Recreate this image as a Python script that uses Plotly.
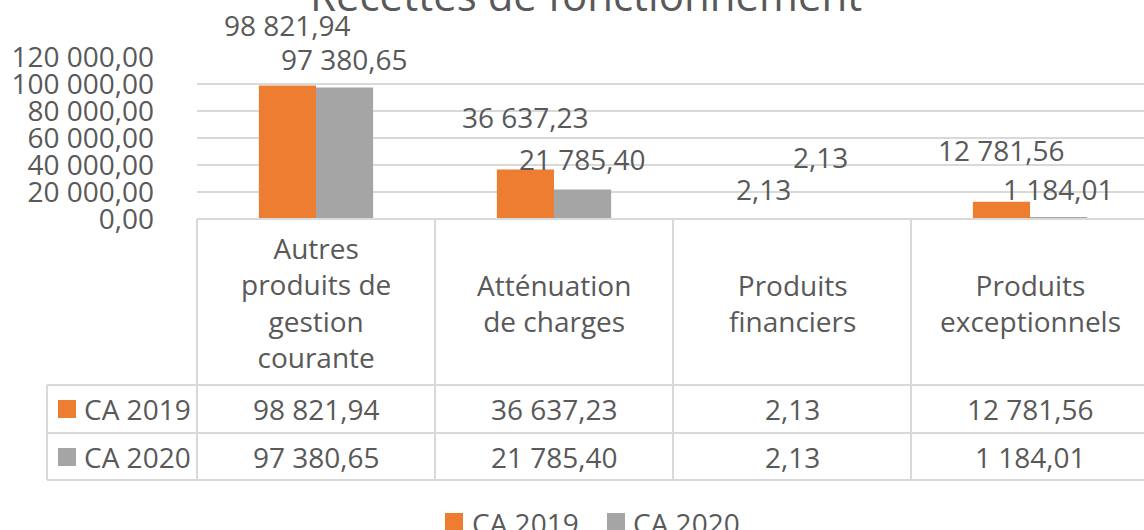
import plotly.graph_objects as go

# ---------------- data ----------------
categories = [
    "Autres produits de gestion courante",
    "Atténuation de charges",
    "Produits financiers",
    "Produits exceptionnels",
]
category_lines = [
    "Autres<br>produits de<br>gestion<br>courante",
    "Atténuation<br>de charges",
    "Produits<br>financiers",
    "Produits<br>exceptionnels",
]
series_names = ["CA 2019", "CA 2020"]
ca_2019 = [98821.94, 36637.23, 2.13, 12781.56]
ca_2020 = [97380.65, 21785.40, 2.13, 1184.01]
tick_vals = [0, 20000, 40000, 60000, 80000, 100000, 120000]
tick_text = ["0,00", "20 000,00", "40 000,00", "60 000,00",
             "80 000,00", "100 000,00", "120 000,00"]
title_text = "Recettes de fonctionnement"

# ---------------- style ----------------
COLORS = ["#ED7D31", "#A5A5A5"]
TEXT = "#595959"
GRID = "#D9D9D9"
FONT = "Open Sans"
W, H = 1144, 530
PL, PR, PT, PB = 197, 1144, 57, 219          # plot area in pixels
COL_W = 238                                   # category column width in px
XR = [-0.5, -0.5 + (PR - PL) / COL_W]
BAR_W = 0.24                                  # bar width in category units
label_lift = [[61, 53, 30, 52], [29, 31, 62, 28]]  # px above bar top


def fr(v):
    return f"{v:,.2f}".replace(",", " ").replace(".", ",")


def px(p):
    return (p - PL) / (PR - PL)


def py(p):
    return (PB - p) / (PB - PT)


def cx(v):
    return (v - XR[0]) / (XR[1] - XR[0])


series = [ca_2019, ca_2020]

fig = go.Figure()
for name, vals, col in zip(series_names, series, COLORS):
    fig.add_trace(go.Bar(x=categories, y=vals, name=name, marker_color=col,
                         marker_line_width=0, showlegend=False))

annotations = []
shapes = []

# data labels
for s, vals in enumerate(series):
    for i, v in enumerate(vals):
        annotations.append(dict(
            x=i + (s - 0.5) * BAR_W, y=v, xref="x", yref="y",
            text=fr(v), showarrow=False, xanchor="center", yanchor="middle",
            yshift=label_lift[s][i], font=dict(family=FONT, size=28, color=TEXT),
            borderpad=0))

# title
annotations.append(dict(x=px(586), y=py(24), xref="paper", yref="paper",
                        text=title_text, showarrow=False, xanchor="center",
                        yanchor="bottom", borderpad=0,
                        font=dict(family=FONT, size=42, color=TEXT)))

# table grid
line = dict(color=GRID, width=2)
row_lines = [385, 433, 480]
shapes.append(dict(type="line", xref="paper", yref="paper", x0=px(PL), x1=1.02,
                   y0=py(219), y1=py(219), line=line))
for yl in row_lines:
    shapes.append(dict(type="line", xref="paper", yref="paper", x0=px(47), x1=1.02,
                       y0=py(yl), y1=py(yl), line=line))
shapes.append(dict(type="line", xref="paper", yref="paper", x0=px(47), x1=px(47),
                   y0=py(385), y1=py(480), line=line))
for b in range(len(categories)):
    xb = cx(b - 0.5)
    shapes.append(dict(type="line", xref="paper", yref="paper", x0=xb, x1=xb,
                       y0=py(219), y1=py(480), line=line))

# header cells
for i, lab in enumerate(category_lines):
    annotations.append(dict(x=i, y=py(302.5), xref="x", yref="paper", text=lab,
                            showarrow=False, xanchor="center", yanchor="middle",
                            borderpad=0,
                            font=dict(family=FONT, size=28, color=TEXT)))

# value rows
row_centers = [409, 457]
for s, vals in enumerate(series):
    yc = row_centers[s]
    shapes.append(dict(type="rect", xref="paper", yref="paper",
                       x0=px(58), x1=px(76), y0=py(yc - 9), y1=py(yc + 9),
                       fillcolor=COLORS[s], line=dict(width=0)))
    annotations.append(dict(x=px(83), y=py(yc), xref="paper", yref="paper",
                            text=series_names[s], showarrow=False, xanchor="left",
                            yanchor="middle", borderpad=0,
                            font=dict(family=FONT, size=28, color=TEXT)))
    for i, v in enumerate(vals):
        annotations.append(dict(x=i, y=py(yc), xref="x", yref="paper", text=fr(v),
                                showarrow=False, xanchor="center", yanchor="middle",
                                borderpad=0,
                                font=dict(family=FONT, size=28, color=TEXT)))

# legend
leg_sq = [445, 607]
leg_txt = [471, 632]
for s in range(2):
    shapes.append(dict(type="rect", xref="paper", yref="paper",
                       x0=px(leg_sq[s]), x1=px(leg_sq[s] + 18),
                       y0=py(513), y1=py(531), fillcolor=COLORS[s], line=dict(width=0)))
    annotations.append(dict(x=px(leg_txt[s]), y=py(523), xref="paper", yref="paper",
                            text=series_names[s], showarrow=False, xanchor="left",
                            yanchor="middle", borderpad=0,
                            font=dict(family=FONT, size=28, color=TEXT)))

fig.update_layout(
    width=W, height=H, autosize=False,
    margin=dict(l=PL, r=W - PR, t=PT, b=H - PB, pad=0),
    paper_bgcolor="white", plot_bgcolor="white",
    barmode="group", bargap=1 - 2 * BAR_W, bargroupgap=0,
    font=dict(family=FONT, color=TEXT),
    xaxis=dict(type="category", range=XR, showticklabels=False, showgrid=False,
               zeroline=False, showline=False, ticks=""),
    yaxis=dict(range=[0, 120000], tickvals=tick_vals, ticktext=tick_text,
               tickfont=dict(family=FONT, size=28, color=TEXT),
               showgrid=True, gridcolor=GRID, gridwidth=2, zeroline=False,
               showline=False, ticks="", ticklabelstandoff=42),
    annotations=annotations, shapes=shapes, showlegend=False,
)

fig.write_html("out.html", config={"displayModeBar": False},
               post_script="document.body.style.margin='0';"
                           "document.body.style.overflow='hidden';")
